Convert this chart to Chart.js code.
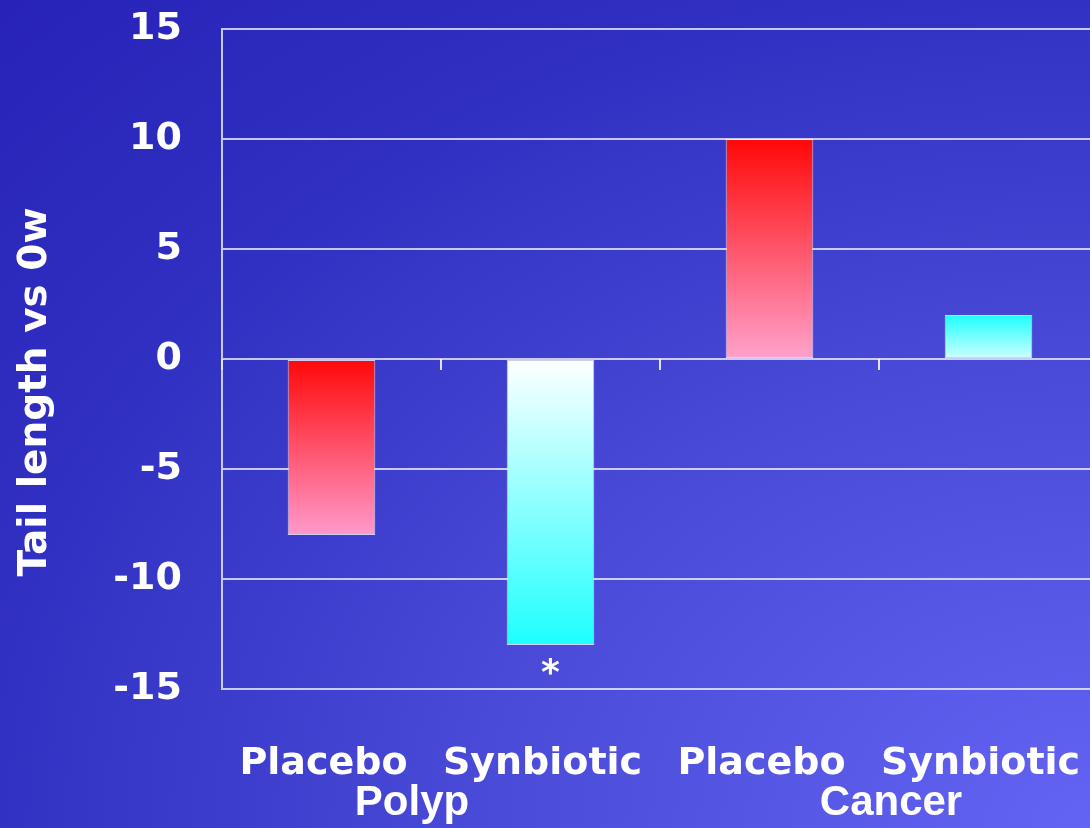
<!DOCTYPE html>
<html>
<head>
<meta charset="utf-8">
<script src="https://cdn.jsdelivr.net/npm/chart.js@4.4.1/dist/chart.umd.min.js"></script>
<style>
  html, body {
    margin: 0;
    padding: 0;
    width: 1090px;
    height: 828px;
    overflow: hidden;
    background: radial-gradient(ellipse farthest-corner at 100% 100%, #6464f4 0%, #4a4ad8 40%, #3030c2 72%, #2822b8 100%);
  }
  #wrap {
    position: absolute;
    left: 0;
    top: 0;
    width: 1098px;
    height: 828px;
  }
</style>
</head>
<body>
<div id="wrap"><canvas id="tailChart"></canvas></div>
<script>
// wartości zmian długości ogona
const categories = ['Placebo', 'Synbiotic', 'Placebo', 'Synbiotic'];
const tailValues = [-8, -13, 10, 2];
const groups = ['Polyp', 'Cancer'];
const marks = ['', '*', '', ''];
const yTicks = [-15, -10, -5, 0, 5, 10, 15];

// kolory gradientu słupka: góra / dół
const topColors = ['#ff0808', '#ffffff', '#ff0808', '#1effff'];
const bottomColors = ['#ff9acb', '#1effff', '#ffa2cc', '#d0ffff'];

const tickFont = { family: 'DejaVu Sans', weight: 'bold', size: 38 };

function barGradient(ctx) {
    const chart = ctx.chart;
    const y = chart.scales.y;
    const i = ctx.dataIndex;
    if (!y || !chart.chartArea) return topColors[i];
    const v = tailValues[i];
    const yTop = y.getPixelForValue(Math.max(v, 0));
    const yBottom = y.getPixelForValue(Math.min(v, 0));
    const g = chart.ctx.createLinearGradient(0, yTop, 0, yBottom);
    g.addColorStop(0, topColors[i]);
    g.addColorStop(1, bottomColors[i]);
    return g;
}

// podpisy grup, gwiazdka istotności i tytuł osi Y
const extraLabels = {
    id: 'extraLabels',
    afterDraw(chart) {
        const c = chart.ctx;
        const x = chart.scales.x;
        const y = chart.scales.y;
        c.save();
        c.fillStyle = '#ffffff';
        c.textAlign = 'center';
        c.textBaseline = 'middle';

        c.font = 'bold 42px "Liberation Sans"';
        groups.forEach((g, k) => {
            const cx = (x.getPixelForValue(k * 2) + x.getPixelForValue(k * 2 + 1)) / 2;
            c.fillText(g, cx + (k === 0 ? -29 : 12), 803);
        });

        c.font = 'bold 36px "DejaVu Sans"';
        marks.forEach((m, i) => {
            if (!m) return;
            c.fillText(m, x.getPixelForValue(i), y.getPixelForValue(Math.min(tailValues[i], 0)) + 30);
        });

        c.font = 'bold 39px "DejaVu Sans"';
        c.translate(36, 392);
        c.rotate(-Math.PI / 2);
        c.fillText('Tail length vs 0w', 0, 0);
        c.restore();
    }
};

const ctx = document.getElementById('tailChart').getContext('2d');
const tailChart = new Chart(ctx, {
    type: 'bar',
    data: {
        labels: categories,
        datasets: [{
            data: tailValues,
            backgroundColor: barGradient,
            borderColor: 'rgba(255,255,255,0.75)',
            borderWidth: 1,
            borderSkipped: false,
            categoryPercentage: 1,
            barPercentage: 0.4
        }]
    },
    options: {
        responsive: true,
        maintainAspectRatio: false,
        animation: false,
        layout: { padding: { top: 29, left: 0, right: 0, bottom: 0 } },
        plugins: {
            legend: { display: false },
            tooltip: { enabled: false }
        },
        scales: {
            x: {
                type: 'category',
                position: 'bottom',
                offset: true,
                grid: { display: false },
                border: { display: false },
                ticks: {
                    color: '#ffffff',
                    font: tickFont,
                    padding: 44,
                    labelOffset: -8,
                    maxRotation: 0,
                    autoSkip: false
                },
                afterFit(scale) {
                    scale.height = 139;
                    scale.paddingLeft = 0;
                    scale.paddingRight = 0;
                }
            },
            x2: {
                type: 'category',
                position: { y: 0 },
                offset: true,
                grid: {
                    offset: true,
                    drawOnChartArea: false,
                    drawTicks: true,
                    tickLength: 11,
                    color: 'rgba(255,255,255,0.85)',
                    lineWidth: 2
                },
                border: { display: false },
                ticks: { display: false },
                afterFit(scale) {
                    scale.height = 0;
                    scale.paddingLeft = 0;
                    scale.paddingRight = 0;
                }
            },
            y: {
                min: -15,
                max: 15,
                afterBuildTicks(scale) {
                    scale.ticks = yTicks.map(v => ({ value: v }));
                },
                grid: {
                    color: 'rgba(255,255,255,0.72)',
                    lineWidth: 2,
                    drawTicks: false
                },
                border: { display: true, color: 'rgba(230,230,240,0.85)', width: 2 },
                ticks: {
                    color: '#ffffff',
                    font: tickFont,
                    padding: 40
                },
                afterFit(scale) {
                    scale.width = 222;
                    scale.paddingTop = 0;
                    scale.paddingBottom = 0;
                }
            }
        }
    },
    plugins: [extraLabels]
});
</script>
</body>
</html>
